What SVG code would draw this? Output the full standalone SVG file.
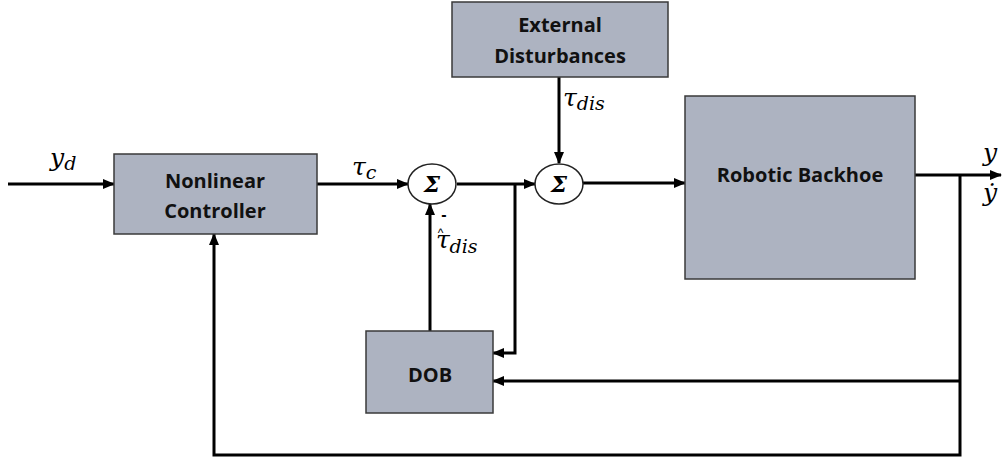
<svg xmlns="http://www.w3.org/2000/svg" width="1005" height="459" viewBox="0 0 1005 459">
<style>
.box{fill:#adb3c1;stroke:#3a3a3a;stroke-width:1.5}
.lbl{font-family:"Open Sans","Liberation Sans",sans-serif;font-weight:bold;font-size:20px;fill:#111;text-anchor:middle}
.ln{fill:none;stroke:#000;stroke-width:3}
.sum{fill:#fff;stroke:#222;stroke-width:1.5}
.sig{font-family:"DejaVu Serif","Liberation Serif",serif;font-weight:bold;font-style:italic;font-size:23px;text-anchor:middle}
.m{font-family:"DejaVu Serif","Liberation Serif",serif;font-style:italic;font-size:25px;fill:#000}
.s{font-size:19px}
.hat{font-family:"Liberation Sans",sans-serif;font-style:normal;font-size:12px}
</style>
<defs>
<marker id="ah" markerWidth="12" markerHeight="10" refX="11" refY="5" orient="auto" markerUnits="userSpaceOnUse">
<path d="M0,0 L12,5 L0,10 Z" fill="#000"/>
</marker>
</defs>
<g id="connectors">
<line class="ln" x1="8" y1="184" x2="114" y2="184" marker-end="url(#ah)"/>
<line class="ln" x1="317" y1="184" x2="408" y2="184" marker-end="url(#ah)"/>
<line class="ln" x1="457" y1="184" x2="535" y2="184" marker-end="url(#ah)"/>
<polyline class="ln" points="515,184 515,353 493,353" marker-end="url(#ah)"/>
<line class="ln" x1="430" y1="331" x2="430" y2="204" marker-end="url(#ah)"/>
<line class="ln" x1="559" y1="77" x2="559" y2="163" marker-end="url(#ah)"/>
<line class="ln" x1="583" y1="183" x2="685" y2="183" marker-end="url(#ah)"/>
<line class="ln" x1="915" y1="175" x2="1001" y2="175" marker-end="url(#ah)"/>
<polyline class="ln" points="960,175 960,455 214,455 214,234" marker-end="url(#ah)"/>
<polyline class="ln" points="960,381 493,381" marker-end="url(#ah)"/>
</g>
<g id="nonlinear-controller">
<rect class="box" x="114" y="154" width="203" height="80"/>
<text class="lbl" x="215" y="188">Nonlinear</text>
<text class="lbl" x="215" y="218">Controller</text>
</g>
<g id="external-disturbances">
<rect class="box" x="452" y="2" width="216" height="75"/>
<text class="lbl" x="560" y="32">External</text>
<text class="lbl" x="560" y="63">Disturbances</text>
</g>
<g id="robotic-backhoe">
<rect class="box" x="685" y="96" width="230" height="183"/>
<text class="lbl" x="800" y="182">Robotic Backhoe</text>
</g>
<g id="dob">
<rect class="box" x="366" y="331" width="127" height="82"/>
<text class="lbl" x="430" y="382">DOB</text>
</g>
<g id="sum1">
<ellipse class="sum" cx="432" cy="184" rx="24" ry="20"/>
<text class="sig" x="432" y="192">Σ</text>
</g>
<g id="sum2">
<ellipse class="sum" cx="559" cy="184" rx="24" ry="20"/>
<text class="sig" x="559" y="192">Σ</text>
</g>
<g id="labels">
<text class="m" x="50" y="166">y<tspan class="s" dy="4">d</tspan></text>
<text class="m" x="352" y="175">τ<tspan class="s" dy="4">c</tspan></text>
<text class="m" x="563" y="106">τ<tspan class="s" dy="4">dis</tspan></text>
<text class="m" x="436" y="248">τ<tspan class="hat" dx="-12" dy="-11">^</tspan><tspan class="s" dx="6" dy="16">dis</tspan></text>
<text x="444" y="220" style="font-family:'Liberation Sans',sans-serif;font-weight:bold;font-size:16px;text-anchor:middle">-</text>
<text class="m" x="983" y="161">y</text>
<text class="m" x="983" y="201">ẏ</text>
</g>
</svg>
